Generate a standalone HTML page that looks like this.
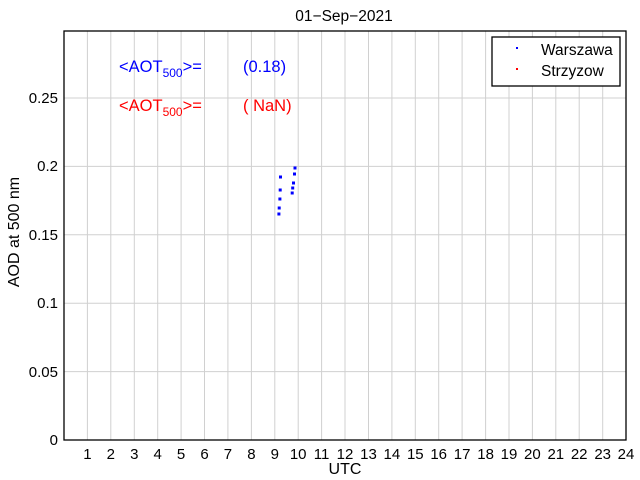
<!DOCTYPE html><html><head><style>body{margin:0;background:#fff}svg{display:block}text{font-family:"Liberation Sans",sans-serif}</style></head><body>
<svg width="640" height="480" xmlns="http://www.w3.org/2000/svg">
<rect width="640" height="480" fill="#fff"/>
<g stroke="#d0d0d0" stroke-width="1">
<line x1="87.4" y1="31" x2="87.4" y2="440"/><line x1="110.8" y1="31" x2="110.8" y2="440"/><line x1="134.3" y1="31" x2="134.3" y2="440"/><line x1="157.7" y1="31" x2="157.7" y2="440"/><line x1="181.1" y1="31" x2="181.1" y2="440"/><line x1="204.5" y1="31" x2="204.5" y2="440"/><line x1="227.9" y1="31" x2="227.9" y2="440"/><line x1="251.4" y1="31" x2="251.4" y2="440"/><line x1="274.8" y1="31" x2="274.8" y2="440"/><line x1="298.2" y1="31" x2="298.2" y2="440"/><line x1="321.6" y1="31" x2="321.6" y2="440"/><line x1="345" y1="31" x2="345" y2="440"/><line x1="368.5" y1="31" x2="368.5" y2="440"/><line x1="391.9" y1="31" x2="391.9" y2="440"/><line x1="415.3" y1="31" x2="415.3" y2="440"/><line x1="438.7" y1="31" x2="438.7" y2="440"/><line x1="462.1" y1="31" x2="462.1" y2="440"/><line x1="485.6" y1="31" x2="485.6" y2="440"/><line x1="509" y1="31" x2="509" y2="440"/><line x1="532.4" y1="31" x2="532.4" y2="440"/><line x1="555.8" y1="31" x2="555.8" y2="440"/><line x1="579.2" y1="31" x2="579.2" y2="440"/><line x1="602.7" y1="31" x2="602.7" y2="440"/>
<line x1="64" y1="371.6" x2="626" y2="371.6"/><line x1="64" y1="303.2" x2="626" y2="303.2"/><line x1="64" y1="234.8" x2="626" y2="234.8"/><line x1="64" y1="166.4" x2="626" y2="166.4"/><line x1="64" y1="98" x2="626" y2="98"/>
</g>
<rect x="64" y="31" width="562" height="409" fill="none" stroke="#000" stroke-width="1.3"/>
<g fill="#00f">
<rect x="293.5" y="166.5" width="3" height="3"/><rect x="293" y="172.5" width="3" height="3"/><rect x="279" y="175.5" width="3" height="3"/><rect x="292" y="181.5" width="3" height="3"/><rect x="291.2" y="186.5" width="3" height="3"/><rect x="278.7" y="188.5" width="3" height="3"/><rect x="290.7" y="191.5" width="3" height="3"/><rect x="278.4" y="197.5" width="3" height="3"/><rect x="277.7" y="206.5" width="3" height="3"/><rect x="277.4" y="212.5" width="3" height="3"/>
</g>
<g font-size="15" text-anchor="middle" fill="#000">
<text x="87.4" y="459">1</text><text x="110.8" y="459">2</text><text x="134.3" y="459">3</text><text x="157.7" y="459">4</text><text x="181.1" y="459">5</text><text x="204.5" y="459">6</text><text x="227.9" y="459">7</text><text x="251.4" y="459">8</text><text x="274.8" y="459">9</text><text x="298.2" y="459">10</text><text x="321.6" y="459">11</text><text x="345" y="459">12</text><text x="368.5" y="459">13</text><text x="391.9" y="459">14</text><text x="415.3" y="459">15</text><text x="438.7" y="459">16</text><text x="462.1" y="459">17</text><text x="485.6" y="459">18</text><text x="509" y="459">19</text><text x="532.4" y="459">20</text><text x="555.8" y="459">21</text><text x="579.2" y="459">22</text><text x="602.7" y="459">23</text><text x="626" y="459">24</text>
<text x="345" y="474" font-size="16">UTC</text>
<text x="344" y="21" font-size="15.5">01−Sep−2021</text>
</g>
<g font-size="15" text-anchor="end">
<text x="58" y="445">0</text><text x="58" y="377">0.05</text><text x="58" y="308">0.1</text><text x="58" y="240">0.15</text><text x="58" y="171">0.2</text><text x="58" y="103">0.25</text>
</g>
<text transform="translate(19,232) rotate(-90)" font-size="16" text-anchor="middle">AOD at 500 nm</text>
<text x="119" y="72" font-size="16.5" fill="#00f">&lt;AOT<tspan font-size="12" dy="5">500</tspan><tspan dy="-5">&gt;=</tspan></text>
<text x="243" y="72" font-size="16.5" fill="#00f">(0.18)</text>
<text x="119" y="111" font-size="16.5" fill="#f00">&lt;AOT<tspan font-size="12" dy="5">500</tspan><tspan dy="-5">&gt;=</tspan></text>
<text x="243" y="111" font-size="16.5" fill="#f00">( NaN)</text>
<rect x="492" y="37" width="128" height="49" fill="#fff" stroke="#000" stroke-width="1.3"/>
<rect x="516" y="47" width="2" height="2" fill="#00f"/>
<rect x="516" y="68" width="2" height="2" fill="#f00"/>
<text x="541" y="55" font-size="15.5">Warszawa</text>
<text x="541" y="76" font-size="15.5">Strzyzow</text>
</svg>
</body></html>
